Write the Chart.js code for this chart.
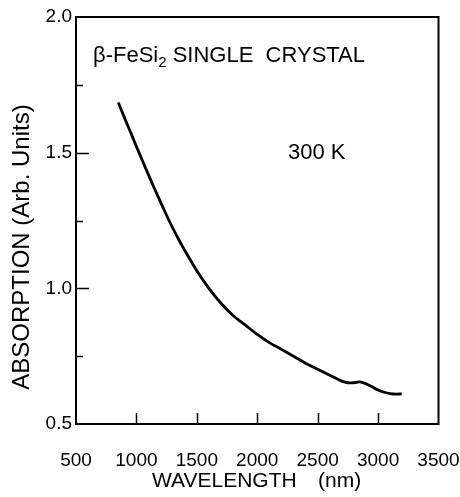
<!DOCTYPE html>
<html>
<head>
<meta charset="utf-8">
<script src="https://cdn.jsdelivr.net/npm/chart.js@4/dist/chart.umd.min.js"></script>
<style>
html,body{margin:0;padding:0;background:#fff;}
#wrap{width:460px;height:497px;}
</style>
</head>
<body>
<div id="wrap"><canvas id="c" width="460" height="497"></canvas></div>
<script>
// ---- data ----
const wavelengths = [850, 900, 950, 1000, 1050, 1100, 1150, 1200, 1270, 1350, 1400, 1500, 1600, 1700, 1800, 1900, 2000, 2100, 2200, 2300, 2400, 2500, 2600, 2700, 2750, 2800, 2850, 2900, 2950, 3000, 3050, 3100, 3150, 3195];
const absorption  = [1.685, 1.63, 1.577, 1.523, 1.47, 1.418, 1.367, 1.318, 1.25, 1.18, 1.14, 1.065, 1.0, 0.945, 0.9, 0.865, 0.83, 0.8, 0.775, 0.75, 0.724, 0.702, 0.68, 0.658, 0.652, 0.652, 0.655, 0.648, 0.637, 0.625, 0.617, 0.612, 0.61, 0.611];
const xTickValues = [500, 1000, 1500, 2000, 2500, 3000, 3500];
const xTickLabels = ['500', '1000', '1500', '2000', '2500', '3000', '3500'];
const yTickValues = [0.5, 1.0, 1.5, 2.0];
const yTickLabels = ['0.5', '1.0', '1.5', '2.0'];
const yMinorTicks = [0.75, 1.25, 1.75];
const xTitle = 'WAVELENGTH';
const xTitleUnit = '(nm)';
const yTitle = 'ABSORPTION (Arb. Units)';
const sampleMain = '\u03B2-FeSi';
const sampleSub = '2';
const sampleRest = ' SINGLE  CRYSTAL';
const tempLabel = '300 K';

const FONT = '"Liberation Sans", Arial, Helvetica, sans-serif';

const decor = {
  id: 'decor',
  afterDraw(chart) {
    const ctx = chart.ctx;
    const a = chart.chartArea;
    const xs = chart.scales.x, ys = chart.scales.y;
    ctx.save();
    ctx.strokeStyle = '#000';
    ctx.fillStyle = '#000';
    // frame
    ctx.lineWidth = 2;
    ctx.strokeRect(a.left, a.top, a.right - a.left, a.bottom - a.top);
    // inward ticks
    ctx.lineWidth = 1.5;
    ctx.beginPath();
    xTickValues.forEach(v => {
      if (v <= xs.min || v >= xs.max) return;
      const px = Math.round(xs.getPixelForValue(v)) + 0.5;
      ctx.moveTo(px, a.bottom);
      ctx.lineTo(px, a.bottom - 11);
    });
    yTickValues.forEach(v => {
      if (v <= ys.min || v >= ys.max) return;
      const py = Math.round(ys.getPixelForValue(v)) + 0.5;
      ctx.moveTo(a.left, py);
      ctx.lineTo(a.left + 13, py);
    });
    yMinorTicks.forEach(v => {
      const py = Math.round(ys.getPixelForValue(v)) + 0.5;
      ctx.moveTo(a.left, py);
      ctx.lineTo(a.left + 7, py);
    });
    ctx.stroke();

    // sample title
    ctx.textAlign = 'left';
    ctx.textBaseline = 'alphabetic';
    ctx.font = '22px ' + FONT;
    let x = 93;
    ctx.fillText(sampleMain, x, 62);
    x += ctx.measureText(sampleMain).width;
    ctx.font = '15px ' + FONT;
    ctx.fillText(sampleSub, x, 67);
    x += ctx.measureText(sampleSub).width;
    ctx.font = '22px ' + FONT;
    ctx.fillText(sampleRest, x, 62);

    // temperature
    ctx.font = '22px ' + FONT;
    ctx.fillText(tempLabel, 288, 159);

    // x title
    ctx.font = '21px ' + FONT;
    ctx.fillText(xTitle, 152, 487);
    ctx.fillText(xTitleUnit, 318, 487);

    // y title
    ctx.save();
    ctx.translate(29, 247);
    ctx.rotate(-Math.PI / 2);
    ctx.textAlign = 'center';
    ctx.font = '24px ' + FONT;
    ctx.fillText(yTitle, 0, 0);
    ctx.restore();

    ctx.restore();
  }
};

new Chart(document.getElementById('c'), {
  type: 'scatter',
  data: {
    datasets: [{
      data: wavelengths.map((w, i) => ({ x: w, y: absorption[i] })),
      showLine: true,
      borderColor: '#000',
      borderWidth: 2.8,
      pointRadius: 0,
      tension: 0.35,
      fill: false
    }]
  },
  options: {
    responsive: false,
    animation: false,
    devicePixelRatio: 1,
    layout: { padding: { left: 0, right: 21.5, top: 17, bottom: 0 } },
    plugins: { legend: { display: false }, tooltip: { enabled: false } },
    scales: {
      x: {
        type: 'linear',
        min: 500, max: 3500,
        afterBuildTicks: s => { s.ticks = xTickValues.map(v => ({ value: v })); },
        afterFit: s => { s.height = 73; s.paddingLeft = 0; s.paddingRight = 0; },
        grid: { display: false, drawTicks: false },
        border: { display: false },
        ticks: {
          autoSkip: false, maxRotation: 0, minRotation: 0,
          padding: 25,
          color: '#000',
          font: { family: FONT, size: 19 },
          callback: v => xTickLabels[xTickValues.indexOf(v)]
        }
      },
      y: {
        type: 'linear',
        min: 0.5, max: 2.0,
        afterBuildTicks: s => { s.ticks = yTickValues.map(v => ({ value: v })); },
        afterFit: s => { s.width = 76; s.paddingTop = 0; s.paddingBottom = 0; },
        grid: { display: false, drawTicks: false },
        border: { display: false },
        ticks: {
          padding: 4,
          color: '#000',
          font: { family: FONT, size: 19 },
          callback: v => yTickLabels[yTickValues.indexOf(v)]
        }
      }
    }
  },
  plugins: [decor]
});
</script>
</body>
</html>
